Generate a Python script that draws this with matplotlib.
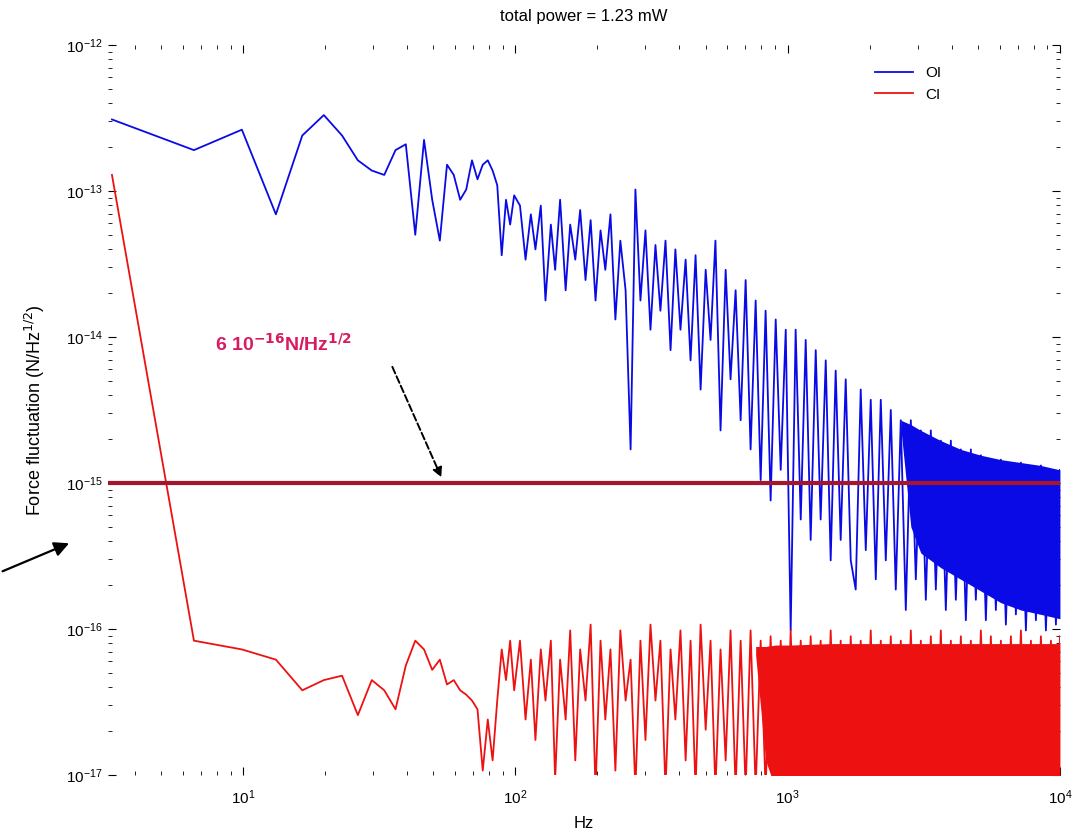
import numpy as np
import matplotlib
matplotlib.use("Agg")
import matplotlib.pyplot as plt

plt.rcParams['font.family'] = ['Liberation Sans', 'DejaVu Sans']

# first FFT bins (Hz), resolved one by one on the plot
f_lo = [3.3, 6.6, 9.9, 13.2, 16.5, 19.8, 23.1, 26.4, 29.7, 33.0,
        36.3, 39.6, 42.9, 46.2, 49.5, 52.8, 56.1, 59.4, 62.7, 66.0,
        69.3, 72.6, 75.9, 79.2, 82.5, 85.8, 89.1, 92.4, 95.7, 99.0]

# log10 of force fluctuation (N/Hz^1/2)
blue_lo = [-12.51, -12.72, -12.58, -13.16, -12.62, -12.48, -12.62, -12.79, -12.86, -12.89,
           -12.72, -12.68, -13.30, -12.65, -13.06, -13.34, -12.82, -12.89, -13.06, -12.99,
           -12.79, -12.92, -12.82, -12.79, -12.86, -12.96, -13.44, -13.06, -13.23, -13.03]
red_lo = [-12.89, -16.08, -16.14, -16.21, -16.42, -16.35, -16.32, -16.59, -16.35, -16.42,
          -16.55, -16.25, -16.08, -16.14, -16.28, -16.21, -16.38, -16.35, -16.42, -16.45,
          -16.49, -16.55, -16.97, -16.62, -16.90, -16.49, -16.14, -16.35, -16.08, -16.42]

# higher frequencies, sampled (peaks and dips of the noisy part)
f_hi = [104, 109, 114, 118.5, 124, 129, 135, 140, 146, 153,
        159, 166, 173, 181, 189, 197, 205.5, 214, 223.5, 233,
        243, 254, 265, 276, 288, 300.5, 313.5, 327, 341, 356,
        371.5, 387, 404, 422, 440, 459, 479, 500, 521, 543,
        567, 592, 617, 644, 672, 701, 731, 763, 796, 830,
        866, 904, 943, 984, 1026, 1070, 1117, 1165, 1215, 1268,
        1322, 1380, 1439, 1501, 1566, 1634, 1705, 1778, 1855, 1936,
        2019, 2107, 2198, 2293, 2392, 2495, 2603, 2716, 2834, 2956,
        3084, 3217, 3356, 3501, 3652, 3810, 3975, 4147, 4326, 4513,
        4708, 4911, 5124, 5345, 5576, 5817, 6069, 6331, 6605, 6890,
        7188, 7499, 7823, 8161, 8514, 8882, 9266, 9666, 10000]

blue_hi = [-13.10, -13.47, -13.16, -13.40, -13.10, -13.75, -13.23, -13.54, -13.06, -13.68,
           -13.23, -13.47, -13.13, -13.61, -13.20, -13.75, -13.27, -13.54, -13.16, -13.88,
           -13.34, -13.68, -14.77, -12.99, -13.75, -13.27, -13.95, -13.37, -13.82, -13.34,
           -14.09, -13.40, -13.95, -13.47, -14.16, -13.44, -14.36, -13.54, -14.02, -13.34,
           -14.64, -13.54, -14.29, -13.68, -14.57, -13.61, -14.77, -13.75, -14.98, -13.82,
           -15.12, -13.88, -14.91, -13.95, -16.01, -13.95, -15.25, -14.02, -15.39, -14.09,
           -15.25, -14.16, -15.53, -14.23, -15.39, -14.29, -15.53, -15.73, -14.36, -15.46,
           -14.43, -15.66, -14.43, -15.53, -14.50, -15.73, -14.57, -15.87, -14.57, -15.66,
           -14.64, -15.80, -14.64, -15.73, -14.71, -15.87, -14.71, -15.80, -14.77, -15.94,
           -14.77, -15.80, -14.81, -15.94, -14.84, -15.87, -14.84, -15.97, -14.88, -15.90,
           -14.86, -16.01, -14.91, -15.94, -14.88, -16.01, -14.91, -15.97, -14.91]

red_hi = [-16.08, -16.62, -16.21, -16.76, -16.14, -16.49, -16.08, -17.03, -16.21, -16.62,
          -16.01, -16.90, -16.14, -16.49, -15.97, -17.10, -16.08, -16.62, -16.14, -16.97,
          -16.01, -16.49, -16.21, -17.10, -16.08, -16.76, -15.97, -16.49, -16.08, -17.10,
          -16.14, -16.62, -16.01, -16.90, -16.08, -17.10, -15.97, -16.69, -16.08, -17.10,
          -16.14, -16.90, -16.01, -17.10, -16.08, -17.10, -16.01, -17.10, -16.08, -17.10,
          -16.05, -17.10, -16.08, -17.10, -16.01, -17.10, -16.08, -17.10, -16.05, -17.10,
          -16.08, -17.10, -16.01, -17.10, -16.08, -17.10, -16.05, -17.10, -16.08, -17.10,
          -16.01, -17.10, -16.08, -17.10, -16.05, -17.10, -16.08, -17.10, -16.01, -17.10,
          -16.08, -17.10, -16.05, -17.10, -16.01, -17.10, -16.08, -17.10, -16.05, -17.10,
          -16.08, -17.10, -16.01, -17.10, -16.05, -17.10, -16.08, -17.10, -16.05, -17.10,
          -16.01, -17.10, -16.08, -17.10, -16.05, -17.10, -16.08, -17.10, -16.05]

# envelopes where the traces are too dense to see single bins
blue_band_f = [2603, 2834, 3084, 3652, 4326, 5124, 6069, 7188, 8514, 10000]
blue_band_top = [-14.57, -14.60, -14.64, -14.71, -14.77, -14.81, -14.84, -14.86, -14.88, -14.91]
blue_band_bot = [-14.62, -15.30, -15.48, -15.58, -15.66, -15.74, -15.82, -15.87, -15.90, -15.93]

red_band_f = [763, 830, 904, 1026, 1439, 2019, 2834, 3975, 5576, 7823, 10000]
red_band_top = [-16.12, -16.12, -16.11, -16.11, -16.10, -16.10, -16.10, -16.10, -16.10, -16.10, -16.10]
red_band_bot = [-16.18, -16.90, -17.10, -17.10, -17.10, -17.10, -17.10, -17.10, -17.10, -17.10, -17.10]

noise_level = 1e-15
labels = ['OI', 'CI']


def main():
    fig = plt.figure(figsize=(10.86, 8.38), dpi=100)
    ax = fig.add_axes([0.0994, 0.0752, 0.8766, 0.8711])

    blue = '#0a0ae6'
    red = '#ee1111'

    f_all = f_lo + f_hi
    v_blue = 10 ** np.array(blue_lo + blue_hi)
    v_red = 10 ** np.array(red_lo + red_hi)

    ax.plot(f_all, v_blue, color=blue, lw=1.3, label=labels[0], zorder=2)
    ax.fill_between(blue_band_f, 10 ** np.array(blue_band_bot), 10 ** np.array(blue_band_top),
                    color=blue, lw=0, zorder=2)
    ax.plot(f_all, v_red, color=red, lw=1.3, label=labels[1], zorder=3)
    ax.fill_between(red_band_f, 10 ** np.array(red_band_bot), 10 ** np.array(red_band_top),
                    color=red, lw=0, zorder=3)

    ax.axhline(noise_level, color='#a3162c', lw=3, zorder=4)

    ax.set_xscale('log')
    ax.set_yscale('log')
    ax.set_xlim(3.19, 1e4)
    ax.set_ylim(1e-17, 1e-12)

    for s in ax.spines.values():
        s.set_visible(False)
    ax.tick_params(which='both', direction='in', top=True, right=True, labelsize=11)
    ax.tick_params(which='major', length=6)
    ax.tick_params(which='minor', length=3)
    ax.tick_params(axis='x', which='major', pad=10)

    ax.set_title('total power = 1.23 mW', fontsize=12, pad=17)
    ax.set_xlabel('Hz', fontsize=12, labelpad=6)
    ax.set_ylabel('Force fluctuation (N/Hz$^{1/2}$)', fontsize=13, labelpad=14)

    ax.text(7.9, 9e-15, r'6 10$^{\mathbf{-16}}$N/Hz$^{\mathbf{1/2}}$', color='#d81b60',
            fontsize=14, fontweight='bold', ha='left', va='center')
    ax.annotate('', xy=(54, 1.05e-15), xytext=(35, 6.5e-15),
                arrowprops=dict(arrowstyle='-|>', color='black', lw=1.4, ls='--',
                                mutation_scale=14))
    ax.annotate('', xy=(0.066, 0.353), xytext=(0.0, 0.317), xycoords='figure fraction',
                textcoords='figure fraction',
                arrowprops=dict(arrowstyle='-|>', color='black', lw=1.6, mutation_scale=22))

    ax.legend(loc='upper right', bbox_to_anchor=(0.89, 0.99), frameon=False, fontsize=11,
              handlelength=2.5)

    fig.savefig('out.png', dpi=100)
    plt.close(fig)


if __name__ == "__main__":
    main()
